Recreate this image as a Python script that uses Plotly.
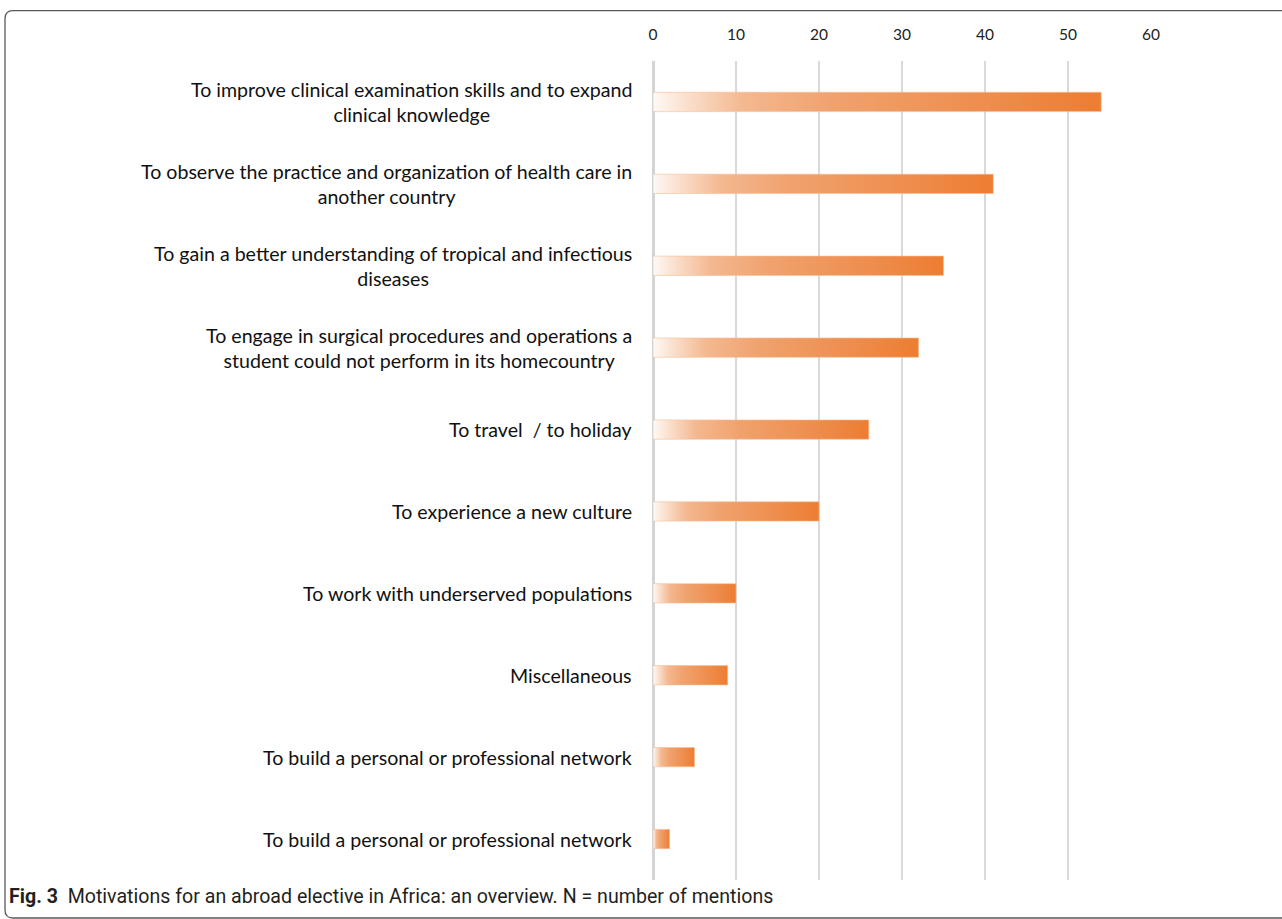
import plotly.graph_objects as go

categories = [
    "To improve clinical examination skills and to expand<br>clinical knowledge",
    "To observe the practice and organization of health care in<br>another country",
    "To gain a better understanding of tropical and infectious<br>diseases",
    "To engage in surgical procedures and operations a<br>student could not perform in its homecountry",
    "To travel  / to holiday",
    "To experience a new culture",
    "To work with underserved populations",
    "Miscellaneous",
    "To build a personal or professional network",
    "To build a personal or professional network",
]
mentions = [54, 41, 35, 32, 26, 20, 10, 9, 5, 2]
x_ticks = [0, 10, 20, 30, 40, 50, 60]

W, H = 1282, 919
ML, MR, MT, MB = 653, 131, 61, 39
BAR_HALF = 0.118
ORANGE = "rgb(237,125,49)"
gradient = [
    [0.0, "rgb(254,249,245)"],
    [0.08, "rgb(250,222,203)"],
    [0.2, "rgb(244,184,144)"],
    [0.4, "rgb(240,162,110)"],
    [0.75, "rgb(238,141,77)"],
    [1.0, ORANGE],
]

fig = go.Figure()
for i, v in enumerate(mentions):
    fig.add_trace(go.Scatter(
        x=[0, v, v, 0, 0],
        y=[i - BAR_HALF, i - BAR_HALF, i + BAR_HALF, i + BAR_HALF, i - BAR_HALF],
        mode="lines",
        line=dict(color="rgba(246,190,150,0.6)", width=1),
        fill="toself",
        fillgradient=dict(type="horizontal", colorscale=gradient),
        hoverinfo="skip",
        showlegend=False,
    ))

annotations = []
for i, label in enumerate(categories):
    annotations.append(dict(
        x=0, xref="paper", y=i, yref="y", text=label, showarrow=False,
        xanchor="right", yanchor="middle", align="center", xshift=-19,
        font=dict(family="Lato, Noto Sans, sans-serif", size=19.6, color="#111111"),
    ))

# caption
pw = W - ML - MR
ph = H - MT - MB
def px2paper(px, py):
    return (px - ML) / pw, (H - MB - py) / ph

cx, cy = px2paper(7, 897)
annotations.append(dict(
    x=cx, y=cy, xref="paper", yref="paper", xanchor="left", yanchor="middle",
    showarrow=False, align="left",
    text="<b>Fig. 3</b>  Motivations for an abroad elective in Africa: an overview. N = number of mentions",
    font=dict(family="Roboto, Noto Sans, sans-serif", size=19.6, color="#231f20"),
))

# rounded border (cropped on right/bottom)
pts = [(1295, 10.7), (13, 10.7), (5, 10.7), (5, 18.7), (5, 910), (5, 918), (13, 918), (1295, 918)]
pp = [px2paper(a, b) for a, b in pts]
path = (f"M {pp[0][0]},{pp[0][1]} L {pp[1][0]},{pp[1][1]} Q {pp[2][0]},{pp[2][1]} {pp[3][0]},{pp[3][1]} "
        f"L {pp[4][0]},{pp[4][1]} Q {pp[5][0]},{pp[5][1]} {pp[6][0]},{pp[6][1]} L {pp[7][0]},{pp[7][1]}")

fig.update_layout(
    width=W, height=H,
    margin=dict(l=ML, r=MR, t=MT, b=MB),
    paper_bgcolor="white", plot_bgcolor="white",
    annotations=annotations,
    shapes=[dict(type="path", path=path, xref="paper", yref="paper",
                 line=dict(color="#5a5a5a", width=1.3), layer="above")],
    xaxis=dict(
        side="top", range=[0, 60], tickvals=x_ticks, ticktext=[str(t) for t in x_ticks],
        showgrid=True, gridcolor="#d9d9d9", gridwidth=2,
        zeroline=True, zerolinecolor="#d4d4d4", zerolinewidth=3,
        showline=False, ticks="outside", ticklen=14, tickcolor="rgba(0,0,0,0)",
        tickfont=dict(family="Lato, Noto Sans, sans-serif", size=15.5, color="#222222"),
        fixedrange=True,
    ),
    yaxis=dict(
        range=[9.5, -0.5], showticklabels=False, showgrid=False, zeroline=False,
        showline=False, ticks="", fixedrange=True,
    ),
)

fig.write_html(
    "out.html",
    config={"displayModeBar": False},
    post_script="document.body.style.margin='0';document.body.style.overflow='hidden';",
)
